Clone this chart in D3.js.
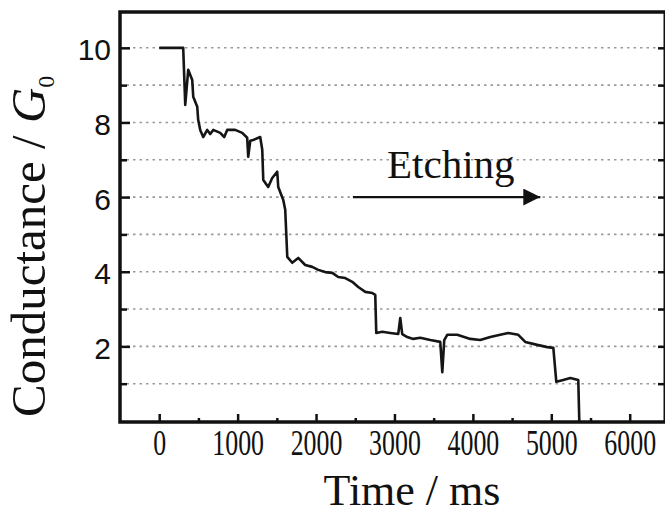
<!DOCTYPE html>
<html lang="en">
<head>
    <meta charset="UTF-8">
    <title>Conductance vs time</title>
    <script src="https://cdn.jsdelivr.net/npm/d3@7"></script>
    <style>
        body { margin: 0; background: #fff; }
        svg { display: block; }
    </style>
</head>
<body>
<svg width="665" height="515"></svg>
<script>

    // data
    var timeMs = [0, 306, 332, 370, 421, 434, 485, 497, 523, 561, 612, 650, 689, 778, 829, 867, 969, 1059, 1122, 1135,
        1161, 1199, 1288, 1314, 1327, 1390, 1441, 1505, 1518, 1582, 1607, 1633, 1696, 1773, 1862, 1951, 2028, 2117, 2207, 2283,
        2372, 2462, 2538, 2628, 2717, 2755, 2768, 2844, 2946, 3048, 3074, 3099, 3163, 3240, 3329, 3457, 3584, 3610, 3635, 3673,
        3801, 3967, 4094, 4222, 4349, 4451, 4579, 4668, 4821, 4949, 5026, 5064, 5153, 5242, 5344, 5357];
    var conductance = [10.0, 10.0, 8.47, 9.41, 9.14, 8.69, 8.42, 8.07, 7.80, 7.61, 7.80, 7.69, 7.80, 7.72, 7.61, 7.80, 7.80, 7.72, 7.59, 7.08,
        7.51, 7.53, 7.61, 7.27, 6.46, 6.27, 6.51, 6.68, 6.27, 5.92, 5.66, 4.40, 4.24, 4.37, 4.18, 4.13, 4.05, 3.99, 3.97, 3.86,
        3.83, 3.73, 3.59, 3.46, 3.43, 3.38, 2.36, 2.39, 2.36, 2.33, 2.76, 2.33, 2.25, 2.20, 2.23, 2.17, 2.12, 1.31, 2.17, 2.31,
        2.31, 2.20, 2.17, 2.25, 2.31, 2.36, 2.31, 2.12, 2.04, 1.98, 1.96, 1.05, 1.10, 1.15, 1.10, 0];

    var xMajor = [0, 1000, 2000, 3000, 4000, 5000, 6000];
    var xMinor = [500, 1500, 2500, 3500, 4500, 5500, 6500];
    var yMajor = [2, 4, 6, 8, 10];
    var yMinor = [1, 3, 5, 7, 9];
    var gridValues = [1, 2, 3, 4, 5, 6, 7, 8, 9, 10];

    // arrow annotation, in data units
    var arrowFrom = [2470, 6];
    var arrowTo = [4860, 6];
    var etchingAt = [2905, 6.51];

    // note: "top" is taken by window.top, so prefixed names
    var pLeft = 120, pRight = 665, pTop = 12, pBottom = 421;

    var svg = d3.select('svg');

    var x = d3.scaleLinear().domain([-500, 6450]).range([pLeft, pRight]);
    var y = d3.scaleLinear().domain([0, 10.96]).range([pBottom, pTop]);

    //dotted grid
    svg.append('g')
        .selectAll('line')
        .data(gridValues)
        .enter().append('line')
        .attr('x1', pLeft)
        .attr('x2', pRight)
        .attr('y1', function(d){ return y(d) })
        .attr('y2', function(d){ return y(d) })
        .attr('stroke', '#9a9a9a')
        .attr('stroke-width', 1.6)
        .attr('stroke-dasharray', '2.5,4');

    //trace
    var line = d3.line()
        .x(function(d,i){ return x(timeMs[i]) })
        .y(function(d){ return y(d) });

    svg.append('path')
        .datum(conductance)
        .attr('d', line)
        .attr('fill', 'none')
        .attr('stroke', '#151515')
        .attr('stroke-width', 2.6)
        .attr('stroke-linejoin', 'round');

    //axes, ticks pointing inward
    function styleAxis(g){
        g.select('.domain').remove();
        g.selectAll('.tick line').attr('stroke', '#111').attr('stroke-width', 2.5);
    }

    var gLeft = svg.append('g')
        .attr('transform', 'translate(' + pLeft + ',0)')
        .call(d3.axisLeft(y).tickValues(yMajor).tickSize(-10).tickPadding(9).tickFormat(d3.format('d')))
        .call(styleAxis);
    gLeft.selectAll('text')
        .attr('font-family', 'Liberation Sans, Arial, sans-serif')
        .attr('font-size', 30)
        .attr('fill', '#111')
        .attr('dy', '0.40em');

    svg.append('g')
        .attr('transform', 'translate(' + pLeft + ',0)')
        .call(d3.axisLeft(y).tickValues(yMinor).tickSize(-7).tickFormat(''))
        .call(styleAxis);

    svg.append('g')
        .attr('transform', 'translate(' + (pRight - 1) + ',0)')
        .call(d3.axisRight(y).tickValues(gridValues).tickSize(-6).tickFormat(''))
        .call(styleAxis);

    var gBottom = svg.append('g')
        .attr('transform', 'translate(0,' + (pBottom + 1) + ')')
        .call(d3.axisBottom(x).tickValues(xMajor).tickSize(-8).tickPadding(8).tickFormat(d3.format('d')))
        .call(styleAxis);
    gBottom.selectAll('text')
        .attr('font-family', 'Liberation Serif, Times New Roman, serif')
        .attr('font-size', 35)
        .attr('fill', '#111')
        .attr('transform', 'scale(0.74,1)');

    svg.append('g')
        .attr('transform', 'translate(0,' + (pBottom + 1) + ')')
        .call(d3.axisBottom(x).tickValues(xMinor).tickSize(-4).tickFormat(''))
        .call(styleAxis);

    //frame
    svg.append('path')
        .attr('d', 'M' + (pRight + 1) + ',' + pTop + 'H' + pLeft + 'V' + (pBottom + 1) + 'H' + (pRight + 1))
        .attr('fill', 'none')
        .attr('stroke', '#111')
        .attr('stroke-width', 3.5);
    svg.append('line')
        .attr('x1', pRight).attr('x2', pRight)
        .attr('y1', pTop).attr('y2', pBottom + 1)
        .attr('stroke', '#111')
        .attr('stroke-width', 3);

    //arrow + label
    svg.append('defs').append('marker')
        .attr('id', 'head')
        .attr('viewBox', '0 0 10 10')
        .attr('refX', 10).attr('refY', 5)
        .attr('markerUnits', 'userSpaceOnUse')
        .attr('markerWidth', 18).attr('markerHeight', 17)
        .attr('orient', 'auto')
        .append('path')
        .attr('d', 'M0,0L10,5L0,10Z')
        .attr('fill', '#111');

    svg.append('line')
        .attr('x1', x(arrowFrom[0])).attr('y1', y(arrowFrom[1]))
        .attr('x2', x(arrowTo[0])).attr('y2', y(arrowTo[1]))
        .attr('stroke', '#111')
        .attr('stroke-width', 2.2)
        .attr('marker-end', 'url(#head)');

    svg.append('text')
        .attr('x', x(etchingAt[0]))
        .attr('y', y(etchingAt[1]))
        .attr('font-family', 'Liberation Serif, Times New Roman, serif')
        .attr('font-size', 41)
        .attr('fill', '#111')
        .text('Etching');

    //axis titles
    svg.append('text')
        .attr('x', 412)
        .attr('y', 505)
        .attr('text-anchor', 'middle')
        .attr('font-family', 'Liberation Serif, Times New Roman, serif')
        .attr('font-size', 44)
        .attr('fill', '#111')
        .text('Time / ms');

    var yTitle = svg.append('text')
        .attr('transform', 'translate(45,417) rotate(-90)')
        .attr('font-family', 'Liberation Serif, Times New Roman, serif')
        .attr('font-size', 49)
        .attr('fill', '#111');
    yTitle.append('tspan').text('Conductance / ');
    yTitle.append('tspan').attr('font-style', 'italic').text('G');
    yTitle.append('tspan').attr('font-size', 24).attr('dy', 9).text('0');

</script>
</body>
</html>
